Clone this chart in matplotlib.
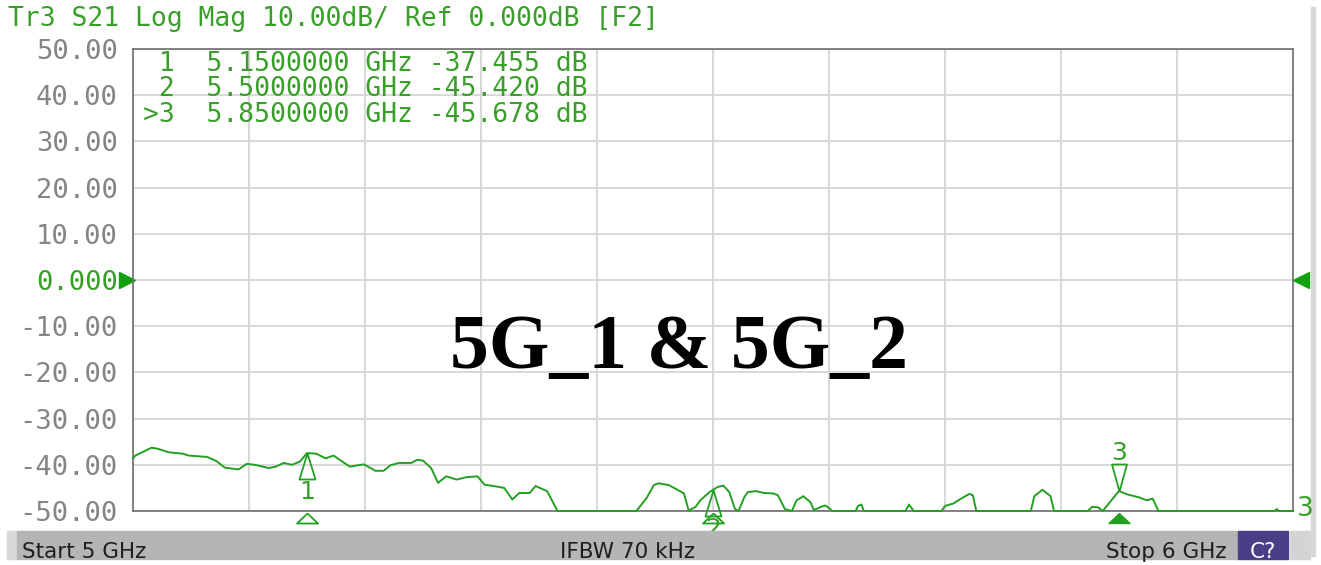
import matplotlib
matplotlib.use("Agg")
import matplotlib.pyplot as plt
from matplotlib.patches import Rectangle
from matplotlib.transforms import blended_transform_factory

# trace S21 (GHz, dB)
freq_ghz = [
    5.000, 5.002, 5.016, 5.021, 5.031, 5.043, 5.048, 5.064, 5.072, 5.079,
    5.091, 5.098, 5.105, 5.117, 5.123, 5.130, 5.137, 5.144, 5.150, 5.158,
    5.166, 5.173, 5.178, 5.187, 5.199, 5.209, 5.216, 5.222, 5.229, 5.240,
    5.245, 5.250, 5.257, 5.263, 5.270, 5.279, 5.287, 5.297, 5.303, 5.311,
    5.320, 5.327, 5.333, 5.342, 5.347, 5.357, 5.366, 5.434, 5.443, 5.449,
    5.453, 5.462, 5.475, 5.479, 5.485, 5.489, 5.497, 5.500, 5.504, 5.509,
    5.514, 5.519, 5.522, 5.527, 5.530, 5.537, 5.544, 5.552, 5.556, 5.562,
    5.568, 5.572, 5.578, 5.584, 5.587, 5.593, 5.597, 5.603, 5.623, 5.625,
    5.628, 5.630, 5.666, 5.669, 5.673, 5.697, 5.700, 5.707, 5.714, 5.721,
    5.724, 5.727, 5.774, 5.777, 5.784, 5.791, 5.794, 5.823, 5.827, 5.832,
    5.836, 5.844, 5.850, 5.857, 5.868, 5.874, 5.879, 5.884, 5.984, 5.986,
    5.988, 6.000,
]
s21_db = [
    -38.6, -38.0, -36.3, -36.5, -37.3, -37.6, -38.0, -38.3, -39.2, -40.6,
    -41.0, -39.8, -40.0, -40.7, -40.4, -39.6, -40.0, -39.3, -37.455, -37.6,
    -38.6, -38.0, -38.9, -40.4, -39.9, -41.3, -41.3, -40.1, -39.6, -39.6,
    -38.9, -39.1, -40.7, -43.9, -42.5, -43.2, -42.7, -42.5, -44.3, -44.6,
    -45.0, -47.5, -46.1, -46.1, -44.6, -45.7, -50.0, -50.0, -47.1, -44.4,
    -44.0, -44.4, -46.2, -49.9, -49.1, -47.7, -45.9, -45.42, -44.8, -44.5,
    -45.9, -49.6, -50.0, -47.0, -45.9, -45.7, -46.1, -46.2, -46.6, -49.6,
    -50.0, -47.7, -46.8, -48.1, -49.8, -49.1, -48.8, -50.0, -50.0, -48.9,
    -48.6, -50.0, -50.0, -48.6, -50.0, -50.0, -48.9, -48.4, -47.3, -46.3,
    -46.6, -50.0, -50.0, -46.8, -45.4, -46.8, -50.0, -50.0, -49.1, -49.2,
    -50.0, -47.5, -45.678, -46.4, -47.1, -47.7, -47.3, -50.0, -50.0, -49.6,
    -50.0, -50.0,
]

# markers
marker_ids = ["1", "2", "3"]
marker_freq = [5.15, 5.50, 5.85]
marker_db = [-37.455, -45.420, -45.678]
active_marker = 2

y_ticks = [50, 40, 30, 20, 10, 0, -10, -20, -30, -40, -50]
header = "Tr3 S21 Log Mag 10.00dB/ Ref 0.000dB [F2]"

W, H = 1321, 565
GREEN = "#22a022"
TEXTGREEN = "#3a9f2a"
MONO = "DejaVu Sans Mono"


def fx(px):
    return px / W


def fy(py):
    return 1 - py / H


def path_marker(verts_px):
    # custom marker from pixel vertices, apex at the data point
    m = max(max(abs(a), abs(b)) for a, b in verts_px)
    return verts_px, 2 * m * 72 / 100


fig = plt.figure(figsize=(W / 100, H / 100), dpi=100)
ax = fig.add_axes([fx(133), fy(511), 1160 / W, 462 / H])

ax.plot(freq_ghz, s21_db, color=GREEN, lw=1.4, clip_on=False, zorder=3)

ax.set_xlim(5, 6)
ax.set_ylim(-50, 50)
ax.set_xticks([5 + i * 0.1 for i in range(11)])
ax.set_yticks(y_ticks)
ax.set_yticklabels(["0.000" if v == 0 else f"{v:.2f}" for v in y_ticks],
                   family=MONO, fontsize=19.5)
for lab, v in zip(ax.get_yticklabels(), y_ticks):
    lab.set_color(TEXTGREEN if v == 0 else "#858585")
ax.tick_params(axis="x", length=0, labelbottom=False)
ax.tick_params(axis="y", length=0, pad=11)
ax.grid(color="#d6d6d6", lw=1.3)
ax.set_axisbelow(True)
for sp in ax.spines.values():
    sp.set_color("#6e6e6e")
    sp.set_linewidth(1.2)

# reference level arrows
bt = blended_transform_factory(ax.transAxes, ax.transData)
ax.plot([-0.0055], [0], marker=">", ms=11, color="#10a010", transform=bt, clip_on=False)
ax.plot([1.0065], [0], marker="<", ms=11, color="#10a010", transform=bt, clip_on=False)

# marker symbols on trace and on the stimulus axis
up_v, up_ms = path_marker([(0, 0), (-8, -26), (8, -26), (0, 0)])
dn_v, dn_ms = path_marker([(0, 0), (-7.5, 27), (7.5, 27), (0, 0)])
ax_v, ax_ms = path_marker([(0, -2), (-10.5, -12), (10.5, -12), (0, -2)])
bx = blended_transform_factory(ax.transData, ax.transAxes)
for i, (mid, f, d) in enumerate(zip(marker_ids, marker_freq, marker_db)):
    if i == active_marker:
        ax.plot([f], [d], marker=dn_v, ms=dn_ms, mfc="none", mec=GREEN, mew=1.3,
                clip_on=False, zorder=4)
        ax.annotate(mid, (f, d), xytext=(0, 38), textcoords="offset pixels",
                    ha="center", va="center", fontsize=18, color=TEXTGREEN)
        ax.plot([f], [0], marker=ax_v, ms=ax_ms, color=GREEN, transform=bx,
                clip_on=False)
    else:
        ax.plot([f], [d], marker=up_v, ms=up_ms, mfc="none", mec=GREEN, mew=1.3,
                clip_on=False, zorder=4)
        ax.annotate(mid, (f, d), xytext=(0, -39), textcoords="offset pixels",
                    ha="center", va="center", fontsize=18, color=TEXTGREEN)
        ax.plot([f], [0], marker=ax_v, ms=ax_ms, mfc="none", mec=GREEN, mew=1.3,
                transform=bx, clip_on=False)

# trace number at the right end
fig.text(fx(1297), fy(509), "3", fontsize=19, color=TEXTGREEN, va="center")

# header and marker table
fig.text(fx(8), fy(19), header, family=MONO, fontsize=19,
         color=TEXTGREEN, va="center")
for i, (mid, f, d) in enumerate(zip(marker_ids, marker_freq, marker_db)):
    tag = ">" if i == active_marker else " "
    row = f"{tag}{mid}  {f:.7f} GHz {d:.3f} dB"
    fig.text(fx(143), fy(64 + i * 25.5), row, family=MONO,
             fontsize=19, color=TEXTGREEN, va="center")

fig.text(fx(679), fy(368), "5G_1 & 5G_2", family="Liberation Serif",
         fontweight="bold", fontsize=56, ha="center", va="baseline", color="black")

# status bar at the bottom
fig.patches.append(Rectangle((fx(7), fy(559)), fx(10), 28 / H, color="#d8d8d8",
                             transform=fig.transFigure))
fig.patches.append(Rectangle((fx(17), fy(559)), fx(1221), 28 / H, color="#b5b5b5",
                             transform=fig.transFigure))
fig.patches.append(Rectangle((fx(1238), fy(559)), fx(50), 28 / H, color="#4a3f86",
                             transform=fig.transFigure))
fig.patches.append(Rectangle((fx(1290), fy(559)), fx(20), 28 / H, color="#d4d4d4",
                             transform=fig.transFigure))
fig.patches.append(Rectangle((fx(1311), fy(556)), fx(4), 549 / H, color="#d8d8d8",
                             transform=fig.transFigure))
fig.text(fx(22), fy(558), "Start 5 GHz", fontsize=15.5, color="#1e1e1e", va="baseline")
fig.text(fx(560), fy(558), "IFBW 70 kHz", fontsize=15.5, color="#1e1e1e", va="baseline")
fig.text(fx(1226), fy(558), "Stop 6 GHz", fontsize=15.5, color="#1e1e1e", va="baseline",
         ha="right")
fig.text(fx(1263), fy(558), "C?", fontsize=15.5, color="white", va="baseline", ha="center")

fig.savefig("out.png", dpi=100)
